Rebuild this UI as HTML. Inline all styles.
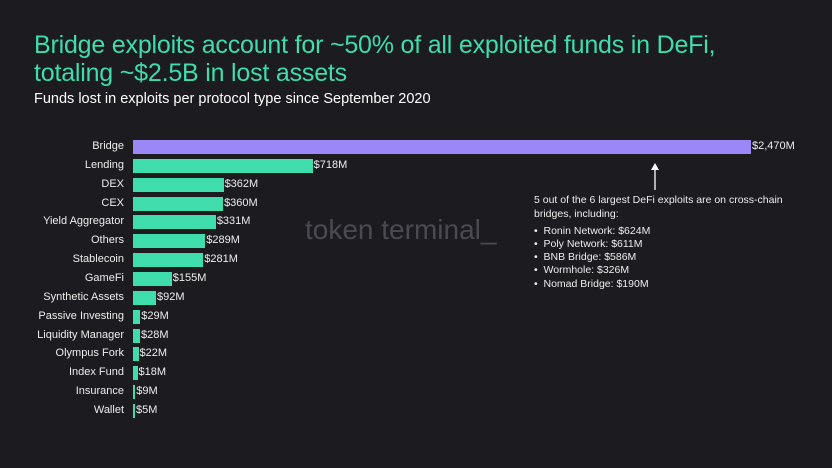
<!DOCTYPE html>
<html><head><meta charset="utf-8"><style>
body{margin:0;width:832px;height:468px;background:#1c1b20;overflow:hidden;font-family:"Liberation Sans",sans-serif;color:#fff;position:relative}
.t{position:absolute;left:34px;color:#3fdcac;font-size:25px;line-height:28px;top:31px;letter-spacing:-0.2px}
.s{position:absolute;left:34px;top:91px;font-size:14.5px}
.l{position:absolute;right:708px;font-size:11px;color:#eee;white-space:nowrap}
.b{position:absolute;left:133px;height:14px;background:#3fdcac}
.v{position:absolute;font-size:11px;color:#eee}
.a{position:absolute;left:534px;font-size:10.5px;color:#eee;white-space:nowrap}
</style></head><body>
<div class="t">Bridge exploits account for ~50% of all exploited funds in DeFi,<br>totaling ~$2.5B in lost assets</div>
<div class="s">Funds lost in exploits per protocol type since September 2020</div>
<div style="position:absolute;left:305px;top:214px;font-size:28px;color:#4b4a50">token terminal_</div>
<div id="c"></div>
<svg style="position:absolute;left:0;top:0" width="832" height="468"><line x1="655" y1="190" x2="655" y2="168" stroke="#fff" stroke-width="1.3"/><path d="M651,170 L655,163 L659,170Z" fill="#fff"/></svg>
<div class="a" style="top:194px">5 out of the 6 largest DeFi exploits are on cross-chain</div>
<div class="a" style="top:208px">bridges, including:</div>
<div class="a" style="top:225px">•&nbsp; Ronin Network: $624M</div>
<div class="a" style="top:238px">•&nbsp; Poly Network: $611M</div>
<div class="a" style="top:251px">•&nbsp; BNB Bridge: $586M</div>
<div class="a" style="top:264px">•&nbsp; Wormhole: $326M</div>
<div class="a" style="top:278px">•&nbsp; Nomad Bridge: $190M</div>
<script>
const d=[["Bridge",2470],["Lending",718],["DEX",362],["CEX",360],["Yield Aggregator",331],["Others",289],["Stablecoin",281],["GameFi",155],["Synthetic Assets",92],["Passive Investing",29],["Liquidity Manager",28],["Olympus Fork",22],["Index Fund",18],["Insurance",9],["Wallet",5]];
let h="";d.forEach((r,i)=>{const c=147+i*18.86,w=Math.max(2,r[1]*0.2502);
h+=`<div class="l" style="top:${c-7}px">${r[0]}</div><div class="b" style="top:${c-7}px;width:${w}px;${i==0?'background:#9b87f5':''}"></div><div class="v" style="top:${c-7}px;left:${134+w}px">$${r[1].toLocaleString('en-US')}M</div>`});
document.getElementById("c").innerHTML=h;
</script>
</body></html>
